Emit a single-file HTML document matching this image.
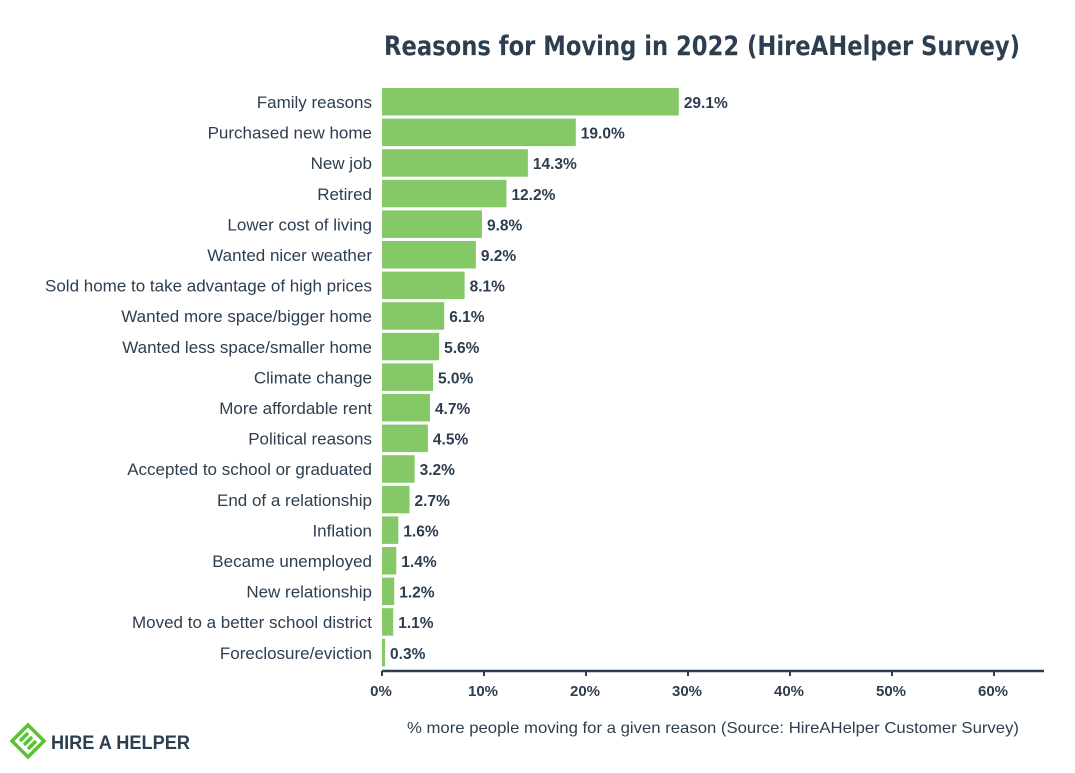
<!DOCTYPE html>
<html><head><meta charset="utf-8"><style>
body{margin:0;background:#fff;width:1075px;height:768px;overflow:hidden;font-family:"Liberation Sans",sans-serif}
</style></head><body>
<svg width="1075" height="768" id="svg">
<text x="702" y="55" text-anchor="middle" font-size="27" font-weight="bold" fill="#2d3e50" style="font-family:'DejaVu Sans Condensed','Liberation Sans Narrow',sans-serif" textLength="636" lengthAdjust="spacingAndGlyphs">Reasons for Moving in 2022 (HireAHelper Survey)</text>
<g id="bars"></g>
<g id="axis"></g>
<text x="713" y="733" text-anchor="middle" font-size="16" fill="#2d3e50" textLength="612" lengthAdjust="spacingAndGlyphs">% more people moving for a given reason (Source: HireAHelper Customer Survey)</text>
<g>
<g fill="none" stroke="#5bc236" stroke-width="3.5">
<path d="M12 741 L28 725 L44 741 L28 757 Z"/>
<path d="M20 741 L28 733 M28 749 L36 741 M24 745 L32 737"/>
</g>
<text x="51" y="749" font-size="19" font-weight="bold" fill="#2d3e50" textLength="139" lengthAdjust="spacingAndGlyphs">HIRE A HELPER</text>
</g>
</svg>
<script>
const categories=["Family reasons","Purchased new home","New job","Retired","Lower cost of living","Wanted nicer weather","Sold home to take advantage of high prices","Wanted more space/bigger home","Wanted less space/smaller home","Climate change","More affordable rent","Political reasons","Accepted to school or graduated","End of a relationship","Inflation","Became unemployed","New relationship","Moved to a better school district","Foreclosure/eviction"];
const values=[29.1,19.0,14.3,12.2,9.8,9.2,8.1,6.1,5.6,5.0,4.7,4.5,3.2,2.7,1.6,1.4,1.2,1.1,0.3];
const ticks=[0,10,20,30,40,50,60];
const NS="http://www.w3.org/2000/svg";
const x=v=>382+v*10.2;
const y=i=>88+i*30.6;
const bars=document.getElementById('bars'),axis=document.getElementById('axis');
function mk(tag,attrs,parent){const e=document.createElementNS(NS,tag);for(const k in attrs)e.setAttribute(k,attrs[k]);parent.appendChild(e);return e;}
categories.forEach((c,i)=>{
 const r=mk('rect',{x:x(0),y:y(i),width:x(values[i])-x(0),height:27.5,fill:'#84c867'},bars);
 
 
 const l=mk('text',{x:372,y:y(i)+20,'text-anchor':'end','font-size':'17',fill:'#2d3e50'},bars);
 l.textContent=c;
 
 
 const v=mk('text',{x:x(values[i])+5,y:y(i)+20,'font-size':'15.5','font-weight':'bold',fill:'#2d3e50'},bars);
 v.textContent=values[i].toFixed(1)+'%';
 
 
});
const ln=mk('line',{x1:x(0),x2:1044,y1:671,y2:671,stroke:'#2d3e50','stroke-width':2.5},axis);


ticks.forEach(t=>{
 const tk=mk('line',{x1:x(t),x2:x(t),y1:671,y2:676,stroke:'#2d3e50','stroke-width':2},axis);
 
 
 const tl=mk('text',{x:x(t)-1,y:696,'text-anchor':'middle','font-size':'15','font-weight':'bold',fill:'#2d3e50'},axis);
 tl.textContent=t+'%';
 
 
});
</script>
</body></html>
